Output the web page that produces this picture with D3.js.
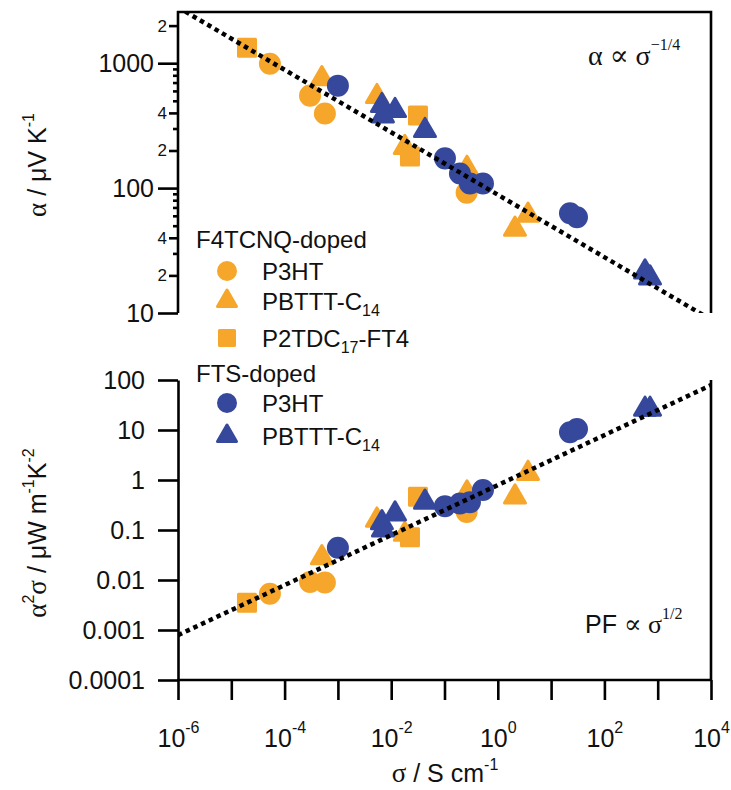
<!DOCTYPE html>
<html>
<head>
<meta charset="utf-8">
<script src="https://cdn.jsdelivr.net/npm/d3@7"></script>
<style>
  body { margin: 0; background: #fff; }
  text { font-family: "Liberation Sans", Arial, sans-serif; fill: #111; }
  .greek { font-family: "Liberation Serif", "DejaVu Serif", serif; }
</style>
</head>
<body>
<svg id="chart" width="731" height="790"></svg>
<script>
// ---- Data: conductivity sigma (S/cm), Seebeck alpha (uV/K), power factor (uW m^-1 K^-2)
// F4TCNQ-doped
const f4P3htSigma   = [5.3e-5, 3.0e-4, 5.7e-4, 0.26];
const f4P3htAlpha   = [990, 550, 395, 92];
const f4P3htPF      = [0.0053, 0.0091, 0.0089, 0.23];

const f4PbtttSigma  = [5.0e-4, 5.4e-3, 0.018, 0.264, 2.1, 3.69];
const f4PbtttAlpha  = [752, 541, 212, 144, 46.9, 60.7];
const f4PbtttPF     = [0.028, 0.158, 0.082, 0.55, 0.46, 1.36];

const f4P2tdcSigma  = [1.97e-5, 0.0225, 0.0318];
const f4P2tdcAlpha  = [1330, 179, 381];
const f4P2tdcPF     = [0.0035, 0.072, 0.46];

// FTS-doped
const ftsP3htSigma  = [1.0e-3, 0.102, 0.195, 0.30, 0.527, 22.6, 30.6];
const ftsP3htAlpha  = [661, 173, 131, 109, 109, 63, 58.5];
const ftsP3htPF     = [0.044, 0.30, 0.34, 0.36, 0.63, 9.0, 10.5];

const ftsPbtttSigma = [6.7e-3, 7.0e-3, 0.0118, 0.043, 578, 718];
const ftsPbtttAlpha = [458, 378, 418, 289, 21.3, 19.1];
const ftsPbtttPF    = [0.14, 0.10, 0.21, 0.36, 26, 26];

// Power-law guides: alpha ~ sigma^-1/4, PF ~ sigma^1/2
const guideSigma      = [1e-6, 1e4];
const guideAlpha      = [2800, 8.85];
const guidePF         = [0.00079, 79];

// Axis ticks
const xTicks          = [1e-6, 1e-5, 1e-4, 1e-3, 1e-2, 1e-1, 1e0, 1e1, 1e2, 1e3, 1e4];
const alphaMajor      = [10, 100, 1000];
const alphaLabeled    = [20, 40, 200, 400, 2000];
const alphaMinor      = [30, 50, 60, 70, 80, 90, 300, 500, 600, 700, 800, 900];
const pfTicks         = [1e-4, 1e-3, 1e-2, 1e-1, 1, 10, 100];
const pfTickLabels    = ["0.0001", "0.001", "0.01", "0.1", "1", "10", "100"];

const ORANGE = "#F6A72B";
const BLUE   = "#36489B";

const series = [
  { group: "F4TCNQ", name: "P3HT",  shape: "circle",   color: ORANGE, sigma: f4P3htSigma,  alpha: f4P3htAlpha,  pf: f4P3htPF },
  { group: "F4TCNQ", name: "PBTTT", shape: "triangle", color: ORANGE, sigma: f4PbtttSigma, alpha: f4PbtttAlpha, pf: f4PbtttPF },
  { group: "F4TCNQ", name: "P2TDC", shape: "square",   color: ORANGE, sigma: f4P2tdcSigma, alpha: f4P2tdcAlpha, pf: f4P2tdcPF },
  { group: "FTS",    name: "P3HT",  shape: "circle",   color: BLUE,   sigma: ftsP3htSigma, alpha: ftsP3htAlpha, pf: ftsP3htPF },
  { group: "FTS",    name: "PBTTT", shape: "triangle", color: BLUE,   sigma: ftsPbtttSigma, alpha: ftsPbtttAlpha, pf: ftsPbtttPF }
];

// ---- Layout
const svg = d3.select("#chart");
const X0 = 178, X1 = 711;
const TOP0 = 12, TOP1 = 313;
const BOT0 = 380, BOT1 = 680;

const x    = d3.scaleLog().domain([1e-6, 1e4]).range([X0, X1]);
const yTop = d3.scaleLog().domain([10, 2570]).range([TOP1, TOP0]);
const yBot = d3.scaleLog().domain([1e-4, 100]).range([BOT1, BOT0]);

const AX_W = 2.6;

// ---- Marker shapes
const symType = { circle: d3.symbolCircle, triangle: d3.symbolTriangle, square: d3.symbolSquare };
const dataSize   = { circle: 284, triangle: 191, square: 289 };
const legendSize = { circle: 227, triangle: 156, square: 225 };
function symPath(shape, sizes) {
  return d3.symbol().type(symType[shape]).size(sizes[shape])();
}

// ---- Clip regions for the guide lines
const defs = svg.append("defs");
defs.append("clipPath").attr("id", "clipTop").append("rect")
  .attr("x", X0).attr("y", TOP0).attr("width", X1 - X0).attr("height", TOP1 - TOP0);
defs.append("clipPath").attr("id", "clipBot").append("rect")
  .attr("x", X0).attr("y", BOT0).attr("width", X1 - X0).attr("height", BOT1 - BOT0);

// ---- Data markers
function drawMarkers(g, yScale, key) {
  series.forEach(s => {
    const pts = s.sigma.map((v, i) => ({ sx: v, sy: s[key][i] }));
    g.selectAll(null).data(pts).enter().append("path")
      .attr("d", symPath(s.shape, dataSize))
      .attr("transform", d => `translate(${x(d.sx)},${yScale(d.sy)})`)
      .attr("fill", s.color)
      .attr("stroke", s.color)
      .attr("stroke-width", 3)
      .attr("stroke-linejoin", "round");
  });
}
drawMarkers(svg.append("g"), yTop, "alpha");
drawMarkers(svg.append("g"), yBot, "pf");

// ---- Guide lines
function drawGuide(values, yScale, clip) {
  const line = d3.line().x(d => x(d[0])).y(d => yScale(d[1]));
  svg.append("path")
    .datum(guideSigma.map((s, i) => [s, values[i]]))
    .attr("d", line)
    .attr("clip-path", `url(#${clip})`)
    .attr("fill", "none")
    .attr("stroke", "#000")
    .attr("stroke-width", 4.5)
    .attr("stroke-dasharray", "4.5 4");
}
drawGuide(guideAlpha, yTop, "clipTop");
drawGuide(guidePF, yBot, "clipBot");

// ---- Axes
function styleAxis(g, size) {
  g.selectAll("path.domain").attr("stroke", "#000").attr("stroke-width", AX_W);
  g.selectAll(".tick line").attr("stroke", "#000").attr("stroke-width", AX_W);
  g.selectAll(".tick text").attr("fill", "#111").style("font-size", size + "px")
    .style("font-family", '"Liberation Sans", Arial, sans-serif');
}

// top panel: Seebeck coefficient
const gTopMain = svg.append("g").attr("transform", `translate(${X0},0)`)
  .call(d3.axisLeft(yTop).tickValues(alphaMajor).tickSize(20).tickSizeOuter(0)
    .tickPadding(4).tickFormat(d3.format("d")));
styleAxis(gTopMain, 25);
gTopMain.select("path.domain").attr("d", `M0,${TOP0 - 1}V${TOP1}`);

const gTopLab = svg.append("g").attr("transform", `translate(${X0},0)`)
  .call(d3.axisLeft(yTop).tickValues(alphaLabeled).tickSize(9).tickPadding(2)
    .tickFormat(d => String(d).charAt(0)));
gTopLab.select("path.domain").remove();
styleAxis(gTopLab, 17);

const gTopMin = svg.append("g").attr("transform", `translate(${X0},0)`)
  .call(d3.axisLeft(yTop).tickValues(alphaMinor).tickSize(5).tickFormat(""));
gTopMin.select("path.domain").remove();
styleAxis(gTopMin, 17);

// top panel frame
svg.append("path")
  .attr("d", `M${X0 - 1},${TOP0}H${X1}V${TOP1}`)
  .attr("fill", "none").attr("stroke", "#000").attr("stroke-width", AX_W);

// bottom panel: power factor
const gBotY = svg.append("g").attr("transform", `translate(${X0},0)`)
  .call(d3.axisLeft(yBot).tickValues(pfTicks).tickSize(20).tickSizeOuter(0)
    .tickPadding(13).tickFormat((d, i) => pfTickLabels[i]));
styleAxis(gBotY, 25);

const gBotX = svg.append("g").attr("transform", `translate(0,${BOT1})`)
  .call(d3.axisBottom(x).tickValues(xTicks).tickSize(20).tickSizeOuter(0).tickFormat(""));
styleAxis(gBotX, 25);
gBotX.select("path.domain").attr("d", `M${X0 - 1},0H${X1 + 1}`);

// decade labels 10^n on every second tick
gBotX.selectAll(".tick").each(function (d) {
  const e = Math.round(Math.log10(d));
  if (e % 2 !== 0) return;
  const t = d3.select(this).append("text")
    .attr("y", 67).attr("text-anchor", "middle")
    .style("font-size", "25px").attr("fill", "#111");
  t.append("tspan").text("10");
  t.append("tspan").attr("dy", -14).style("font-size", "16px").text(String(e).replace("-", "-"));
});

svg.append("path")
  .attr("d", `M${X1},${BOT0}V${BOT1}`)
  .attr("fill", "none").attr("stroke", "#000").attr("stroke-width", AX_W);

// ---- Axis titles
const xt = svg.append("text").attr("x", 445).attr("y", 782).attr("text-anchor", "middle")
  .style("font-size", "25px");
xt.append("tspan").attr("class", "greek").style("font-size", "27px").text("σ");
xt.append("tspan").text(" / S cm");
xt.append("tspan").attr("dy", -12).style("font-size", "16px").text("-1");

const yt1 = svg.append("text").attr("transform", "translate(46,165) rotate(-90)")
  .attr("text-anchor", "middle").style("font-size", "25px");
yt1.append("tspan").attr("class", "greek").style("font-size", "27px").text("α");
yt1.append("tspan").text(" / μV K");
yt1.append("tspan").attr("dy", -12).style("font-size", "16px").text("-1");

const yt2 = svg.append("text").attr("transform", "translate(46,533) rotate(-90)")
  .attr("text-anchor", "middle").style("font-size", "25px");
yt2.append("tspan").attr("class", "greek").style("font-size", "27px").text("α");
yt2.append("tspan").attr("dy", -12).style("font-size", "16px").text("2");
yt2.append("tspan").attr("dy", 12).attr("class", "greek").style("font-size", "27px").text("σ");
yt2.append("tspan").text(" / μW m");
yt2.append("tspan").attr("dy", -12).style("font-size", "16px").text("-1");
yt2.append("tspan").attr("dy", 12).text("K");
yt2.append("tspan").attr("dy", -12).style("font-size", "16px").text("-2");

// ---- Scaling-law annotations
const a1 = svg.append("text").attr("x", 588).attr("y", 65).style("font-size", "28px");
a1.append("tspan").attr("class", "greek").text("α ∝ σ");
a1.append("tspan").attr("class", "greek").attr("dy", -15).style("font-size", "16px").text("−1/4");

const a2 = svg.append("text").attr("x", 585).attr("y", 633).style("font-size", "25px");
a2.append("tspan").text("PF ");
a2.append("tspan").attr("class", "greek").style("font-size", "26px").text("∝ σ");
a2.append("tspan").attr("class", "greek").attr("dy", -14).style("font-size", "16px").text("1/2");

// ---- Legend
const legendHeaders = [
  { label: "F4TCNQ-doped", y: 248 },
  { label: "FTS-doped", y: 382 }
];
const legendRows = [
  { shape: "circle",   color: ORANGE, y: 280, parts: [["P3HT"]] },
  { shape: "triangle", color: ORANGE, y: 310, parts: [["PBTTT-C"], ["14", "sub"]] },
  { shape: "square",   color: ORANGE, y: 347, parts: [["P2TDC"], ["17", "sub"], ["-FT4"]] },
  { shape: "circle",   color: BLUE,   y: 412, parts: [["P3HT"]] },
  { shape: "triangle", color: BLUE,   y: 445, parts: [["PBTTT-C"], ["14", "sub"]] }
];
const lg = svg.append("g");
lg.selectAll(null).data(legendHeaders).enter().append("text")
  .attr("x", 196).attr("y", d => d.y).style("font-size", "24px").text(d => d.label);
legendRows.forEach(r => {
  lg.append("path")
    .attr("d", symPath(r.shape, legendSize))
    .attr("transform", `translate(227,${r.y - 9})`)
    .attr("fill", r.color).attr("stroke", r.color)
    .attr("stroke-width", 3).attr("stroke-linejoin", "round");
  const t = lg.append("text").attr("x", 262).attr("y", r.y).style("font-size", "24px");
  let shifted = false;
  r.parts.forEach(([txt, kind]) => {
    const sp = t.append("tspan").text(txt);
    if (kind === "sub") { sp.attr("dy", 6).style("font-size", "16px"); shifted = true; }
    else if (shifted) { sp.attr("dy", -6); shifted = false; }
  });
});
</script>
</body>
</html>
